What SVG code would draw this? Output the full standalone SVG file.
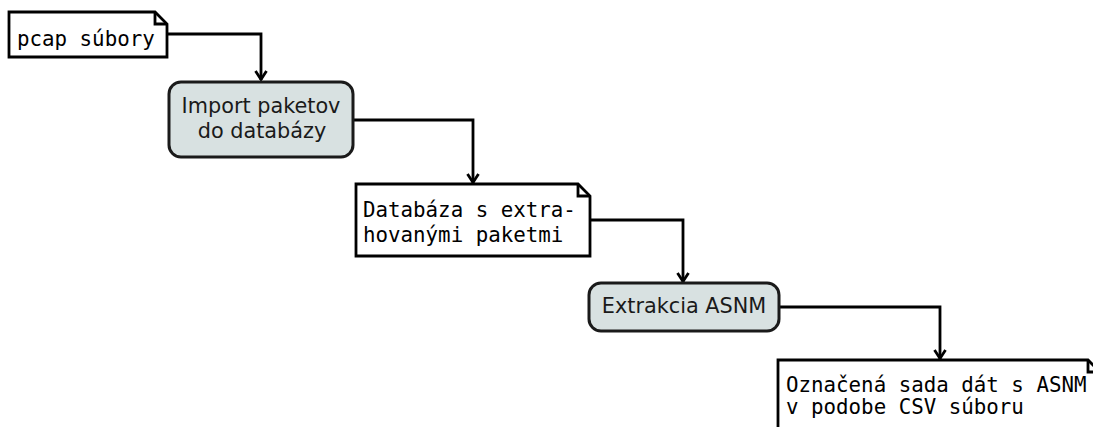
<svg xmlns="http://www.w3.org/2000/svg" width="1093" height="427" viewBox="0 0 1093 427">
  <style>
    .note { fill: #ffffff; stroke: #000000; stroke-width: 2.8; stroke-linejoin: miter; }
    .fold { fill: none; stroke: #000000; stroke-width: 2.8; }
    .proc { fill: #d8e1e1; stroke: #1a1a1a; stroke-width: 3; }
    .mono { font-family: "DejaVu Sans Mono", "Liberation Mono", monospace; font-size: 20.8px; fill: #000000; }
    .sans { font-family: "DejaVu Sans", "Liberation Sans", sans-serif; font-size: 20.8px; fill: #1a1a1a; text-anchor: middle; }
    .wire { fill: none; stroke: #000000; stroke-width: 2.8; marker-end: url(#arrow); }
  </style>
  <defs>
    <!-- open V arrowhead, tip at the end of the wire -->
    <marker id="arrow" markerUnits="userSpaceOnUse" markerWidth="14" markerHeight="16" viewBox="-12 -8 14 16" refX="0" refY="0" orient="auto" overflow="visible">
      <path d="M-9,-5.5 L-0.5,0 L-9,5.5" fill="none" stroke="#000000" stroke-width="2.8"/>
    </marker>
  </defs>

  <rect width="1093" height="427" fill="#ffffff"/>

  <g id="connectors">
    <path class="wire" d="M167,34 H261 V80"/>
    <path class="wire" d="M353,120 H473 V183"/>
    <path class="wire" d="M590,220 H683 V282"/>
    <path class="wire" d="M779,307 H940 V359"/>
  </g>

  <g id="pcap-files">
    <path class="note" d="M9,12 H155 L167,24 V57 H9 Z"/>
    <path class="fold" d="M155,12 V24 H167"/>
    <text class="mono" x="17" y="46">pcap súbory</text>
  </g>

  <g id="import-packets">
    <rect class="proc" x="169" y="82" width="184" height="75" rx="12" ry="12"/>
    <text class="sans" x="261" y="113">Import paketov</text>
    <text class="sans" x="262" y="138">do databázy</text>
  </g>

  <g id="packet-database">
    <path class="note" d="M356,184 H578 L590,196 V256 H356 Z"/>
    <path class="fold" d="M578,184 V196 H590"/>
    <text class="mono" x="363" y="217">Databáza s extra-</text>
    <text class="mono" x="363" y="242">hovanými paketmi</text>
  </g>

  <g id="asnm-extraction">
    <rect class="proc" x="589" y="283" width="190" height="48" rx="12" ry="12"/>
    <text class="sans" x="684" y="313">Extrakcia ASNM</text>
  </g>

  <g id="labeled-dataset">
    <path class="note" d="M778,360 H1088 L1100,372 V440 H778 Z"/>
    <path class="fold" d="M1088,360 V372 H1100"/>
    <text class="mono" x="786" y="392">Označená sada dát s ASNM</text>
    <text class="mono" x="786" y="414">v podobe CSV súboru</text>
  </g>
</svg>
